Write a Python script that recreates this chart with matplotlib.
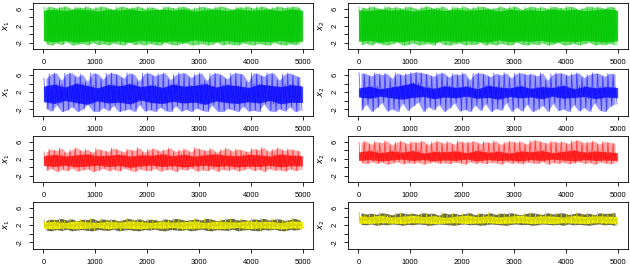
import matplotlib
matplotlib.use("Agg")
import matplotlib.pyplot as plt
import numpy as np

plt.rcParams['font.family'] = ['Liberation Sans', 'DejaVu Sans']

# 5000-iteration chains, summarised from the picture:
# per 100-iteration bin the highest / lowest value reached (top / bot),
# and per 200-iteration bin the band where the trace mostly sits (core)
n_iter = 5000

green_x1_top = [6.3, 6.5, 6.1, 6.4, 6.5, 5.9, 6.4, 6.2, 6.5, 6.0, 6.4, 6.5, 6.2, 5.8, 6.4, 6.5, 6.1,
                6.3, 6.5, 6.0, 6.4, 6.2, 5.7, 6.5, 6.3, 6.1, 6.5, 6.4, 5.9, 6.2, 6.5, 6.3, 6.0, 6.4,
                6.5, 6.2, 5.8, 6.4, 6.3, 6.5, 6.1, 6.4, 6.5, 6.0, 6.3, 6.5, 6.2, 6.4, 6.5, 6.2]
green_x1_bot = [-2.2, -2.5, -2.0, -2.4, -1.7, -2.5, -2.3, -2.1, -2.5, -1.9, -2.4, -2.2, -2.5, -2.0,
                -2.3, -2.5, -1.8, -2.4, -2.2, -2.5, -2.1, -2.4, -2.5, -1.9, -2.3, -2.5, -2.2, -2.0,
                -2.5, -2.4, -2.1, -2.5, -2.3, -1.8, -2.5, -2.2, -2.4, -2.5, -2.0, -2.3, -2.5, -2.1,
                -2.4, -2.5, -1.9, -2.3, -2.5, -2.2, -2.4, -2.0]
green_x1_core_top = [5.6, 5.8, 5.5, 5.9, 5.7, 5.4, 5.8, 5.6, 5.9, 5.5, 5.7, 5.8, 5.6, 5.9, 5.4,
                     5.7, 5.8, 5.5, 5.9, 5.6, 5.7, 5.8, 5.5, 5.9, 5.6]
green_x1_core_bot = [-1.5, -1.7, -1.4, -1.8, -1.6, -1.3, -1.7, -1.5, -1.8, -1.4, -1.6, -1.7, -1.5,
                     -1.8, -1.3, -1.6, -1.7, -1.4, -1.8, -1.5, -1.6, -1.7, -1.4, -1.8, -1.5]

green_x2_top = [6.4, 6.1, 6.5, 6.3, 5.8, 6.5, 6.2, 6.4, 6.0, 6.5, 6.3, 5.9, 6.4, 6.5, 6.1, 6.3, 6.5,
                5.7, 6.4, 6.2, 6.5, 6.0, 6.3, 6.5, 6.4, 5.9, 6.2, 6.5, 6.1, 6.4, 6.5, 5.8, 6.3, 6.5,
                6.2, 6.4, 6.0, 6.5, 6.3, 6.1, 6.5, 6.4, 5.8, 6.2, 6.5, 6.3, 6.4, 6.0, 6.5, 6.3]
green_x2_bot = [-2.4, -2.1, -2.5, -1.9, -2.3, -2.5, -2.2, -1.8, -2.5, -2.4, -2.0, -2.5, -2.3, -2.1,
                -2.5, -1.7, -2.4, -2.5, -2.2, -2.0, -2.5, -2.3, -2.4, -1.9, -2.5, -2.2, -2.5, -2.1,
                -2.4, -2.5, -1.8, -2.3, -2.5, -2.2, -2.4, -2.0, -2.5, -2.3, -1.9, -2.5, -2.4, -2.1,
                -2.5, -2.2, -1.8, -2.5, -2.3, -2.4, -2.1, -2.5]
green_x2_core_top = [5.7, 5.5, 5.9, 5.6, 5.8, 5.4, 5.7, 5.9, 5.5, 5.8, 5.6, 5.7, 5.9, 5.4, 5.8,
                     5.6, 5.7, 5.5, 5.9, 5.6, 5.8, 5.5, 5.7, 5.9, 5.6]
green_x2_core_bot = [-1.6, -1.4, -1.8, -1.5, -1.7, -1.3, -1.6, -1.8, -1.4, -1.7, -1.5, -1.6, -1.8,
                     -1.3, -1.7, -1.5, -1.6, -1.4, -1.8, -1.5, -1.7, -1.4, -1.6, -1.8, -1.5]

blue_x1_top = [5.2, 6.3, 6.5, 4.8, 6.4, 6.5, 5.6, 6.2, 4.5, 6.5, 6.3, 5.0, 6.4, 6.5, 6.1, 5.3, 6.5,
               6.2, 4.6, 6.4, 6.5, 5.8, 6.3, 6.5, 4.9, 6.1, 6.5, 6.4, 5.4, 6.2, 6.5, 4.7, 6.3, 6.5,
               6.0, 5.1, 6.4, 6.5, 6.2, 4.4, 6.5, 6.3, 5.7, 6.5, 6.4, 4.8, 6.2, 6.5, 6.0, 5.5]
blue_x1_bot = [-1.8, -2.4, -1.0, -2.5, -2.2, -1.4, -2.5, -2.0, -0.8, -2.4, -2.5, -1.6, -2.3, -1.1,
               -2.5, -2.2, -1.9, -2.5, -0.9, -2.4, -2.1, -2.5, -1.5, -2.3, -2.5, -1.2, -2.4, -2.0,
               -2.5, -1.7, -2.2, -2.5, -1.0, -2.4, -2.5, -1.8, -2.1, -2.5, -1.3, -2.4, -2.2, -2.5,
               -0.7, -2.3, -2.5, -1.9, -2.4, -1.4, -2.5, -2.2]
blue_x1_core_top = [3.4, 3.9, 3.2, 4.1, 3.6, 3.0, 3.8, 3.5, 4.0, 3.3, 3.7, 3.1, 3.9, 3.4, 3.6,
                    4.0, 3.2, 3.8, 3.5, 3.1, 3.9, 3.6, 3.3, 3.8, 3.4]
blue_x1_core_bot = [-0.2, -0.6, 0.1, -0.4, -0.8, 0.0, -0.5, -0.3, -0.7, 0.2, -0.4, -0.6, -0.1,
                    -0.5, -0.3, -0.8, 0.0, -0.4, -0.6, -0.2, -0.5, 0.1, -0.7, -0.3, -0.4]

blue_x2_top = [6.5, 6.3, 5.8, 6.5, 6.1, 6.4, 5.2, 6.5, 6.0, 6.3, 6.6, 6.7, 6.5, 6.2, 5.7, 6.4, 6.5,
               5.5, 6.3, 6.1, 6.5, 4.9, 6.4, 6.5, 6.2, 5.6, 6.4, 6.0, 6.5, 5.3, 6.4, 6.5, 6.1, 6.3,
               5.8, 6.5, 4.8, 6.2, 6.5, 6.4, 5.9, 6.3, 6.5, 5.4, 6.1, 6.5, 6.3, 5.7, 6.4, 6.2]
blue_x2_bot = [-2.2, -0.8, -2.5, -1.6, -0.4, -2.4, -1.9, -2.5, -0.6, -2.3, -1.2, -0.3, -2.5, -1.4,
               -2.1, -0.9, -2.5, -1.7, -0.5, -2.4, -2.0, -2.5, -1.0, -2.3, -0.7, -2.5, -1.8, -2.2,
               -0.4, -2.5, -1.5, -2.4, -0.8, -2.5, -2.0, -1.1, -2.5, -0.6, -2.3, -1.9, -2.5, -0.9,
               -2.4, -1.6, -2.5, -0.5, -2.2, -2.5, -1.3, -0.7]
blue_x2_core_top = [3.0, 3.4, 2.8, 3.2, 3.6, 4.2, 3.3, 2.9, 3.5, 3.1, 3.4, 2.8, 3.6, 3.2, 3.0,
                    3.5, 2.9, 3.3, 3.1, 3.6, 2.8, 3.4, 3.0, 3.3, 3.1]
blue_x2_core_bot = [0.9, 0.6, 1.1, 0.7, 0.4, 0.8, 1.0, 0.5, 0.9, 0.7, 1.1, 0.6, 0.8, 0.4, 1.0,
                    0.7, 0.9, 0.5, 1.1, 0.6, 0.8, 1.0, 0.5, 0.9, 0.7]

red_x1_top = [3.6, 4.3, 3.9, 4.5, 3.4, 4.1, 4.6, 3.8, 4.2, 3.5, 4.4, 4.0, 3.7, 4.5, 4.1, 3.6, 4.3,
              3.9, 4.6, 3.5, 4.2, 4.4, 3.8, 4.1, 4.5, 3.7, 4.0, 4.3, 3.6, 4.6, 4.2, 3.9, 4.4, 3.5,
              4.1, 4.5, 3.8, 4.3, 4.0, 3.6, 4.4, 4.1, 4.6, 3.7, 4.2, 4.5, 3.9, 4.3, 4.1, 3.8]
red_x1_bot = [-0.7, -0.3, -1.0, -0.5, -0.8, -0.2, -0.9, -0.6, -0.4, -1.0, -0.7, -0.3, -0.8, -0.5,
              -0.9, -0.2, -0.6, -1.0, -0.4, -0.7, -0.8, -0.3, -0.9, -0.6, -0.5, -1.0, -0.4, -0.7,
              -0.2, -0.9, -0.6, -0.8, -0.3, -1.0, -0.5, -0.7, -0.4, -0.9, -0.6, -0.2, -0.8, -0.5,
              -1.0, -0.3, -0.7, -0.6, -0.9, -0.4, -0.8, -0.5]
red_x1_core_top = [2.7, 3.0, 2.6, 2.9, 3.1, 2.7, 2.8, 3.0, 2.6, 2.9, 2.8, 3.1, 2.7, 3.0, 2.6,
                   2.9, 3.1, 2.8, 2.7, 3.0, 2.9, 2.6, 3.1, 2.8, 2.7]
red_x1_core_bot = [0.4, 0.2, 0.5, 0.1, 0.3, 0.5, 0.2, 0.4, 0.0, 0.3, 0.5, 0.2, 0.4, 0.1, 0.3,
                   0.5, 0.2, 0.4, 0.1, 0.3, 0.2, 0.5, 0.1, 0.4, 0.3]

red_x2_top = [5.8, 6.1, 5.4, 6.0, 5.7, 6.2, 5.2, 5.9, 6.1, 5.5, 6.0, 5.8, 6.2, 5.3, 5.9, 6.1, 5.6,
              6.0, 5.4, 6.2, 5.8, 5.9, 6.1, 5.5, 6.0, 5.7, 6.2, 5.3, 5.9, 6.1, 5.8, 6.0, 5.4, 6.2,
              6.3, 5.9, 5.6, 6.1, 5.8, 6.0, 5.5, 6.2, 6.3, 5.7, 5.9, 6.1, 5.4, 6.0, 5.8, 5.6]
red_x2_bot = [1.1, 0.8, 1.3, 0.9, 1.2, 0.7, 1.0, 1.3, 0.8, 1.1, 0.9, 1.2, 0.7, 1.0, 1.3, 0.9, 1.1,
              0.8, 1.2, 1.0, 0.7, 1.3, 0.9, 1.1, 0.8, 1.2, 1.0, 0.7, 1.3, 0.9, 1.1, 0.8, 1.2, 1.0,
              0.9, 1.3, 0.7, 1.1, 0.9, 1.2, 0.8, 1.0, 1.3, 0.9, 1.1, 0.7, 1.2, 1.0, 0.8, 1.1]
red_x2_core_top = [3.6, 3.9, 3.4, 3.8, 3.5, 3.9, 3.3, 3.7, 3.6, 3.8, 3.4, 3.9, 3.5, 3.7, 3.3,
                   3.8, 3.6, 3.9, 3.4, 3.7, 4.0, 3.5, 3.8, 3.6, 3.4]
red_x2_core_bot = [1.6, 1.8, 1.5, 1.7, 1.9, 1.6, 1.8, 1.5, 1.7, 1.6, 1.9, 1.5, 1.8, 1.6, 1.7,
                   1.5, 1.8, 1.6, 1.9, 1.7, 1.5, 1.8, 1.6, 1.7, 1.6]

yellow_x1_top = [3.1, 3.4, 3.3, 3.6, 3.2, 3.5, 3.0, 3.4, 3.3, 3.6, 3.1, 3.5, 3.2, 3.4, 3.0, 3.3,
                 3.6, 3.2, 3.5, 3.1, 3.4, 3.3, 3.0, 3.5, 3.2, 3.6, 3.4, 3.1, 3.3, 3.5, 3.2, 3.6,
                 3.4, 3.0, 3.3, 3.5, 3.6, 3.2, 3.4, 3.1, 3.5, 3.3, 3.6, 3.2, 3.4, 3.5, 3.1, 3.3,
                 3.6, 3.2]
yellow_x1_bot = [0.9, 0.7, 1.0, 0.8, 1.1, 0.7, 0.9, 1.0, 0.8, 0.7, 1.0, 0.9, 0.8, 1.1, 0.7, 0.9,
                 1.0, 0.8, 0.7, 1.0, 0.9, 1.1, 0.8, 0.7, 1.0, 0.9, 0.8, 1.0, 0.7, 0.9, 1.1, 0.8,
                 0.7, 1.0, 0.9, 0.8, 1.1, 0.7, 0.9, 1.0, 0.8, 0.7, 1.0, 0.9, 1.1, 0.8, 0.7, 1.0,
                 0.9, 1.1]
yellow_x1_core_top = [2.7, 2.9, 2.6, 3.0, 2.8, 2.6, 2.9, 2.7, 3.0, 2.8, 2.6, 2.9, 2.7, 2.8, 3.0,
                      2.6, 2.9, 2.8, 2.7, 3.0, 2.8, 2.9, 2.6, 3.0, 2.8]
yellow_x1_core_bot = [1.3, 1.2, 1.4, 1.2, 1.3, 1.5, 1.2, 1.4, 1.3, 1.2, 1.4, 1.3, 1.5, 1.2, 1.3,
                      1.4, 1.2, 1.3, 1.5, 1.2, 1.4, 1.3, 1.2, 1.4, 1.3]

yellow_x2_top = [4.9, 4.6, 4.8, 4.5, 4.9, 4.7, 4.4, 4.8, 4.9, 4.6, 4.8, 4.5, 4.9, 4.7, 4.8, 4.3,
                 4.9, 4.6, 4.8, 4.5, 4.7, 4.9, 4.4, 4.8, 4.6, 4.9, 4.5, 4.8, 4.7, 4.9, 4.6, 4.4,
                 4.8, 4.9, 4.7, 4.5, 4.9, 4.6, 4.8, 4.9, 4.5, 4.7, 4.9, 4.6, 4.8, 4.4, 4.9, 4.7,
                 4.8, 4.9]
yellow_x2_bot = [2.2, 2.1, 2.3, 2.0, 2.2, 2.1, 2.3, 2.2, 2.0, 2.2, 2.1, 2.3, 2.2, 2.0, 2.1, 2.3,
                 2.2, 2.1, 2.0, 2.2, 2.3, 2.1, 2.2, 2.0, 2.1, 2.3, 2.2, 2.1, 2.0, 2.2, 2.3, 2.1,
                 2.2, 2.0, 2.1, 2.3, 2.2, 2.1, 2.2, 2.0, 2.3, 2.1, 2.2, 2.1, 2.0, 2.2, 2.3, 2.1,
                 2.2, 2.0]
yellow_x2_core_top = [4.2, 4.0, 4.3, 3.9, 4.1, 4.3, 4.0, 4.2, 3.8, 4.1, 4.3, 4.0, 4.2, 3.9, 4.1,
                      4.3, 4.0, 4.2, 4.1, 3.9, 4.3, 4.0, 4.2, 4.1, 4.0]
yellow_x2_core_bot = [2.5, 2.4, 2.6, 2.5, 2.4, 2.6, 2.5, 2.4, 2.5, 2.6, 2.4, 2.5, 2.6, 2.4, 2.5,
                      2.6, 2.4, 2.5, 2.4, 2.6, 2.5, 2.4, 2.6, 2.5, 2.4]

panels = [
    [(green_x1_top, green_x1_bot, green_x1_core_top, green_x1_core_bot),
     (green_x2_top, green_x2_bot, green_x2_core_top, green_x2_core_bot)],
    [(blue_x1_top, blue_x1_bot, blue_x1_core_top, blue_x1_core_bot),
     (blue_x2_top, blue_x2_bot, blue_x2_core_top, blue_x2_core_bot)],
    [(red_x1_top, red_x1_bot, red_x1_core_top, red_x1_core_bot),
     (red_x2_top, red_x2_bot, red_x2_core_top, red_x2_core_bot)],
    [(yellow_x1_top, yellow_x1_bot, yellow_x1_core_top, yellow_x1_core_bot),
     (yellow_x2_top, yellow_x2_bot, yellow_x2_core_top, yellow_x2_core_bot)],
]
colors = ["#00C800", "#0000FF", "#FF0000", "#FFFF00"]
outer_alpha = [0.55, 0.4, 0.35]
core_alpha = [0.85, 0.75, 0.7]
ylabels = ["$x_1$", "$x_2$"]

W, H = 630, 265
fig = plt.figure(figsize=(W / 100, H / 100), dpi=100)

col_left = [33, 348]
col_width = 280
row_top = [2.5, 69, 135.5, 202]
row_height = 46.5

for r in range(4):
    color = colors[r]
    for c in range(2):
        top, bot, ctop, cbot = panels[r][c]
        ax = fig.add_axes([col_left[c] / W, 1 - (row_top[r] + row_height) / H,
                           col_width / W, row_height / H])
        nb = len(top)
        step = n_iter / nb
        xb = np.linspace(step / 2, n_iter - step / 2, nb)
        xc = np.linspace(1, n_iter, len(ctop))
        # within each bin the trace goes top -> core bottom -> core top -> bottom
        xz = (xb[:, None] + np.array([-0.375, -0.125, 0.125, 0.375]) * step).ravel()
        idx = np.arange(nb) * len(ctop) // nb
        yz = np.column_stack([top, np.array(cbot)[idx], np.array(ctop)[idx], bot]).ravel()
        if r == 3:
            ax.fill_between(xb, bot, top, color="#2a2a00", alpha=0.7, lw=0)
            ax.fill_between(xc, cbot, ctop, color=color, lw=0)
            ax.plot(xz, yz, color="black", lw=0.5, alpha=0.5)
            ax.plot(xz, yz, color=color, lw=0.4, alpha=0.9)
        else:
            ax.fill_between(xb, bot, top, color=color, alpha=outer_alpha[r], lw=0)
            ax.fill_between(xc, cbot, ctop, color=color, alpha=core_alpha[r], lw=0)
            ax.plot(xz, yz, color=color, lw=0.6, alpha=0.6)
        ax.set_xlim(-200, 5200)
        ax.set_ylim(-3.4, 7.4)
        ax.set_xticks([0, 1000, 2000, 3000, 4000, 5000])
        ax.set_yticks([-2, 0, 2, 4, 6])
        ax.set_yticklabels(["-2", "", "2", "", "6"], rotation=90, va="center")
        ax.tick_params(labelsize=5.5, length=3, width=0.6)
        ax.tick_params(axis="x", pad=4.5)
        ax.tick_params(axis="y", pad=4)
        for sp in ax.spines.values():
            sp.set_linewidth(0.6)
        ax.set_ylabel(ylabels[c], fontsize=6, labelpad=3)

fig.savefig("out.png", dpi=100)
